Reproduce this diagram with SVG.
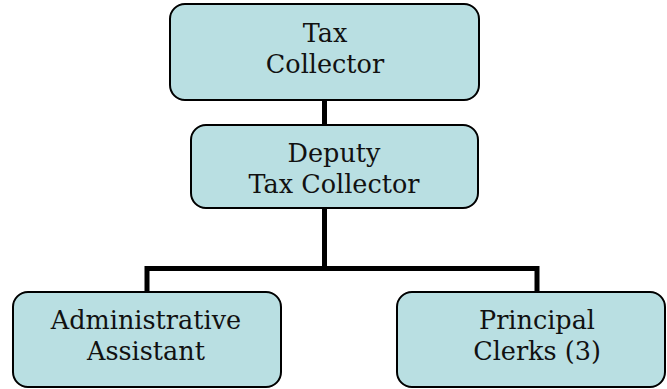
<svg xmlns="http://www.w3.org/2000/svg" width="667" height="389" viewBox="0 0 667 389">
  <style>
    .box { fill: #b9dfe2; stroke: #000; stroke-width: 2; }
    .lbl { font-family: "DejaVu Serif", "Liberation Serif", serif; font-size: 25.5px; fill: #111; text-anchor: middle; }
    .wire { fill: none; stroke: #000; stroke-width: 5; }
  </style>
  <rect width="667" height="389" fill="#fff"/>
  <g id="connectors">
    <line class="wire" x1="324.5" y1="100" x2="324.5" y2="125"/>
    <polyline class="wire" points="147,292 147,268.5 537,268.5 537,292"/>
    <line class="wire" x1="324.5" y1="208" x2="324.5" y2="268.5"/>
  </g>
  <g id="tax-collector">
    <rect class="box" x="170" y="4" width="309" height="96" rx="15"/>
    <text class="lbl" x="325" y="42">Tax</text>
    <text class="lbl" x="325" y="73">Collector</text>
  </g>
  <g id="deputy-tax-collector">
    <rect class="box" x="191" y="125" width="287" height="83" rx="15"/>
    <text class="lbl" x="334" y="162">Deputy</text>
    <text class="lbl" x="334" y="193">Tax Collector</text>
  </g>
  <g id="administrative-assistant">
    <rect class="box" x="13" y="292" width="268" height="95" rx="15"/>
    <text class="lbl" x="146" y="329">Administrative</text>
    <text class="lbl" x="146" y="360">Assistant</text>
  </g>
  <g id="principal-clerks">
    <rect class="box" x="397" y="292" width="268" height="95" rx="15"/>
    <text class="lbl" x="537" y="329">Principal</text>
    <text class="lbl" x="537" y="360">Clerks (3)</text>
  </g>
</svg>
